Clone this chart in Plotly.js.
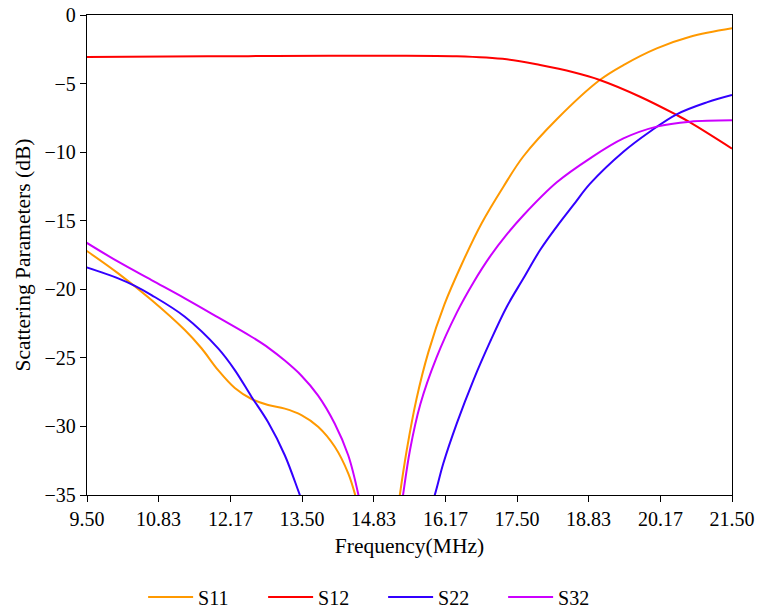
<!DOCTYPE html>
<html>
<head>
<meta charset="utf-8">
<script src="https://cdn.plot.ly/plotly-3.0.1.min.js"></script>
<style>html,body{margin:0;padding:0;background:#fff;}#chart{width:759px;height:610px;}</style>
</head>
<body>
<div id="chart"></div>
<script>
// Frequency (MHz) and S-parameter values (dB)
var s11Freq = [9.49, 10.08, 10.70, 11.32, 11.63, 11.94, 12.25, 12.56, 12.87, 13.18, 13.49, 13.80, 14.11, 14.36, 14.49, 14.58,
               15.27, 15.32, 15.45, 15.63, 15.85, 16.15, 16.48, 16.84, 17.25, 17.62, 18.24, 19.04, 19.48, 20.10, 20.72, 21.5];
var s11 = [-17.19, -18.84, -20.78, -22.97, -24.3, -25.9, -27.2, -28.0, -28.44, -28.7, -29.17, -30.02, -31.48, -33.42, -35.0, -36.5,
           -36.5, -35.0, -31.7, -28.0, -24.6, -21.1, -18.1, -15.2, -12.5, -10.3, -7.6, -4.74, -3.65, -2.43, -1.58, -0.97];

var s12Freq = [9.5, 11.0, 12.5, 14.0, 15.14, 16.38, 17.31, 17.93, 18.55, 19.04, 19.79, 20.47, 20.72, 21.5];
var s12 = [-3.06, -3.03, -3.0, -2.98, -2.97, -3.01, -3.23, -3.65, -4.18, -4.74, -5.96, -7.29, -7.83, -9.74];

var s22Freq = [9.49, 10.08, 10.39, 10.70, 11.32, 11.94, 12.25, 12.56, 12.87, 13.18, 13.46, 13.56,
               15.88, 15.97, 16.13, 16.38, 16.69, 17.00, 17.31, 17.62, 17.93, 18.24, 18.55, 18.86, 19.48, 19.97, 20.47, 21.03, 21.5];
var s22 = [-18.40, -19.20, -19.75, -20.42, -22.0, -24.31, -25.89, -27.83, -29.7, -32.1, -35.0, -36.0,
           -36.0, -35.0, -32.69, -29.78, -26.62, -23.82, -21.27, -19.2, -17.14, -15.43, -13.85, -12.3, -9.97, -8.51, -7.24, -6.37, -5.83];

var s32Freq = [9.49, 10.08, 10.70, 11.32, 11.94, 12.56, 12.87, 13.18, 13.49, 13.80, 14.11, 14.36, 14.55, 14.62,
               15.33, 15.38, 15.51, 15.70, 16.00, 16.38, 16.69, 17.00, 17.31, 17.62, 18.24, 18.86, 19.48, 20.10, 20.72, 21.5];
var s32 = [-16.60, -17.99, -19.33, -20.66, -22.05, -23.46, -24.25, -25.2, -26.3, -27.75, -29.8, -32.1, -35.0, -36.5,
           -36.4, -35.0, -31.7, -28.4, -25.0, -21.7, -19.5, -17.6, -16.0, -14.6, -12.2, -10.45, -9.0, -8.14, -7.78, -7.68];

var tickVals = [9.5, 10.83, 12.17, 13.5, 14.83, 16.17, 17.5, 18.83, 20.17, 21.5];
var tickText = ["9.50", "10.83", "12.17", "13.50", "14.83", "16.17", "17.50", "18.83", "20.17", "21.50"];

function tr(x, y, name, color) {
  return {x: x, y: y, name: name, type: 'scatter', mode: 'lines',
          line: {color: color, width: 2, shape: 'spline', smoothing: 1}};
}
var data = [
  tr(s11Freq, s11, 'S11', '#FF9900'),
  tr(s12Freq, s12, 'S12', '#FF0000'),
  tr(s22Freq, s22, 'S22', '#3300FF'),
  tr(s32Freq, s32, 'S32', '#CC00FF')
];
var font = "'Liberation Serif', 'Times New Roman', serif";
var layout = {
  width: 759, height: 610,
  margin: {l: 87, r: 27, t: 15, b: 115, autoexpand: false},
  paper_bgcolor: '#fff', plot_bgcolor: '#fff',
  font: {family: font, color: '#000', size: 20},
  showlegend: true,
  legend: {orientation: 'h', x: 0.087, xanchor: 'left', y: -0.2125, yanchor: 'middle',
           itemwidth: 45, entrywidth: 60, entrywidthmode: 'pixels', font: {family: font, size: 20}},
  xaxis: {range: [9.5, 21.5], tickmode: 'array', tickvals: tickVals, ticktext: tickText,
          showgrid: false, zeroline: false, showline: true, linecolor: '#000', linewidth: 1.2,
          mirror: true, ticks: 'outside', ticklen: 6, tickcolor: '#000',
          tickfont: {family: font, size: 20},
          title: {text: 'Frequency(MHz)', font: {family: font, size: 21.5}, standoff: 8}},
  yaxis: {range: [-35, 0], tickvals: [0, -5, -10, -15, -20, -25, -30, -35],
          showgrid: false, zeroline: false, showline: true, linecolor: '#000', linewidth: 1.2,
          mirror: true, ticks: 'outside', ticklen: 6, tickcolor: '#000',
          tickfont: {family: font, size: 20},
          title: {text: 'Scattering Parameters (dB)', font: {family: font, size: 21.5}, standoff: 8}}
};
Plotly.newPlot('chart', data, layout, {displayModeBar: false, staticPlot: true});
</script>
</body>
</html>
